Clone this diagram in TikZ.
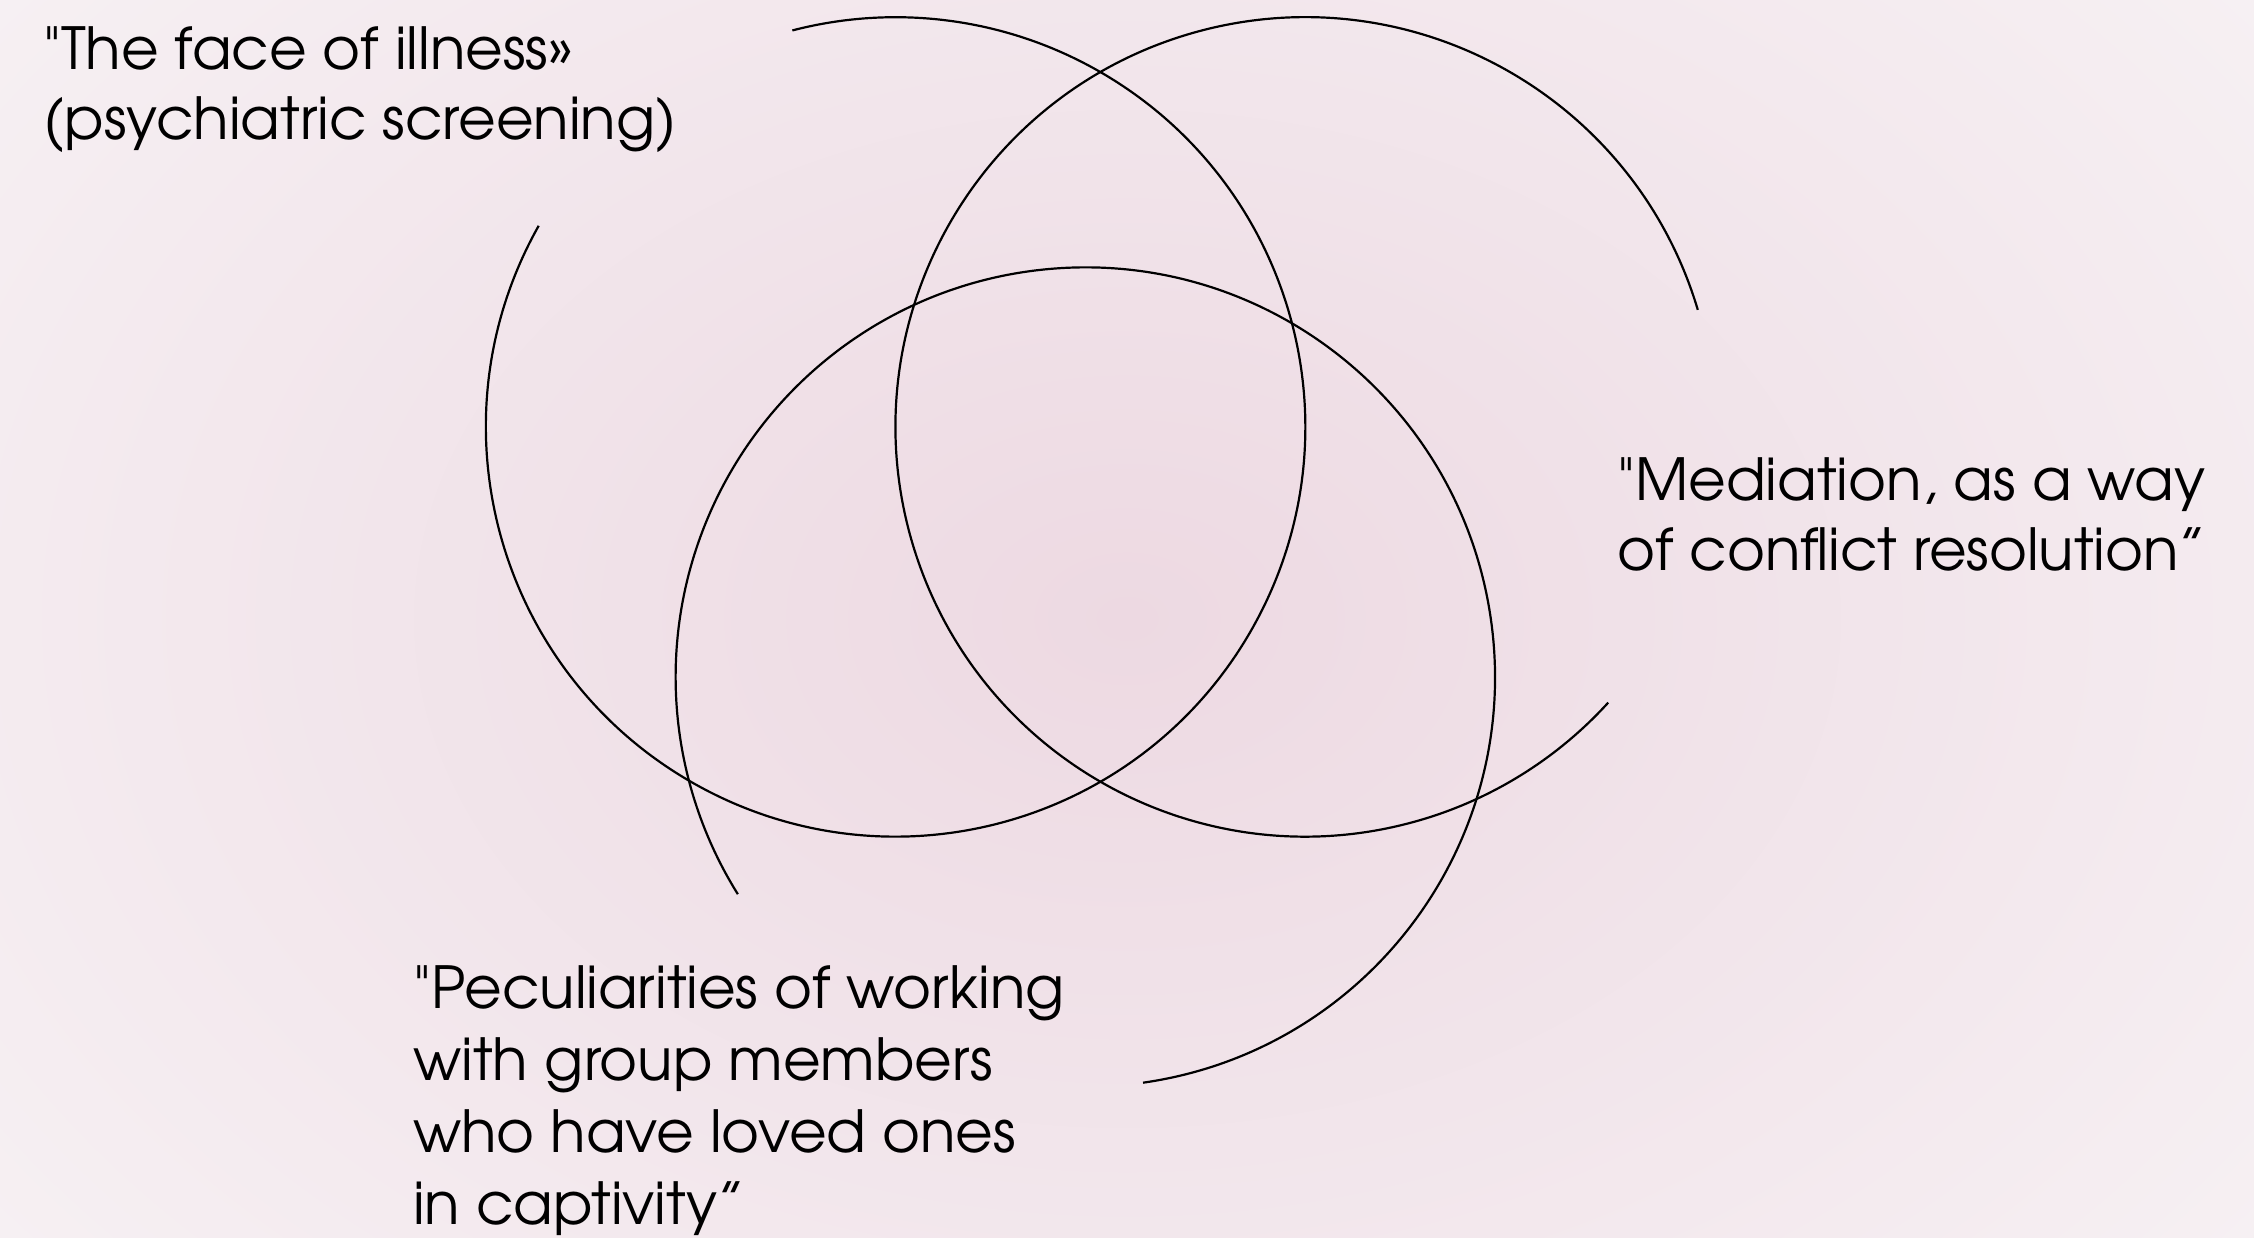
\documentclass[tikz,border=0pt]{standalone}
\usepackage{fontspec}
\setmainfont{texgyreadventor}[Extension=.otf, UprightFont=*-regular, Ligatures=TeXOff]
\begin{document}
\begin{tikzpicture}[x=1pt,y=1pt,
  ring/.style={draw=black, line width=2.2pt},
  label/.style={anchor=north west, inner sep=0pt, align=left, text=black,
    font=\fontsize{58}{70}\selectfont}]
\definecolor{bgin}{RGB}{237,217,226}
\definecolor{bgout}{RGB}{246,240,243}
\useasboundingbox (0,0) rectangle (2254,1237);
\shade[inner color=bgin, outer color=bgout] (-300,-400) rectangle (2554,1637);
\coordinate (c1) at (895.6,810.1);
\coordinate (c2) at (1305.2,810.1);
\coordinate (c3) at (1085.3,559.9);
\draw[ring] ([shift={(150.6:409.7)}]c1) arc[start angle=150.6, end angle=464.6, radius=409.7];
\draw[ring] ([shift={(16.6:409.7)}]c2) arc[start angle=16.6, end angle=317.7, radius=409.7];
\draw[ring] ([shift={(278.1:409.7)}]c3) arc[start angle=278.1, end angle=572, radius=409.7];
\node[label] (t1) at (43,1211) {"The face of illness»\\(psychiatric screening)};
\node[label] (t2) at (1617,780) {"Mediation, as a way\\of conflict resolution”};
\node[label, font=\fontsize{58}{72}\selectfont] (t3) at (413,272) {"Peculiarities of working\\with group members\\who have loved ones\\in captivity”};
\end{tikzpicture}
\end{document}
